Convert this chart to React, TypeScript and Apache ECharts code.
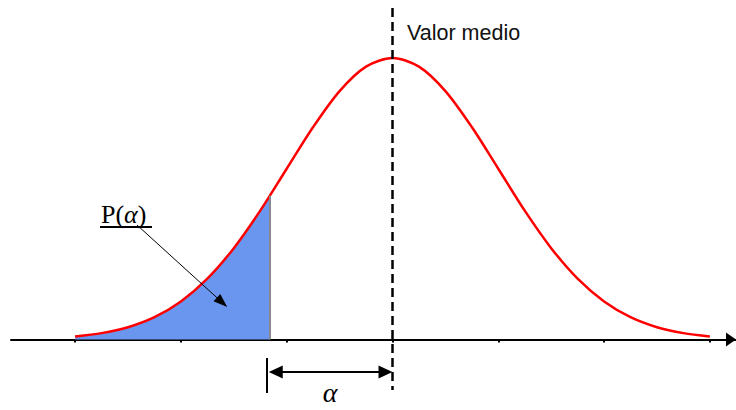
import React, { useEffect, useRef } from "react";
import * as echarts from "echarts";

// Standardised abscissa (in σ units) and the curve's height
const Z_VALUES = [-3, -2.75, -2.5, -2.25, -2, -1.75, -1.5, -1.25, -1, -0.75, -0.5, -0.25, 0, 0.25, 0.5, 0.75, 1, 1.25, 1.5, 1.75, 2, 2.25, 2.5, 2.75, 3];
const DENSITY = [0.0044, 0.0091, 0.0175, 0.0317, 0.054, 0.0863, 0.1295, 0.1826, 0.242, 0.3011, 0.3521, 0.3867, 0.3989, 0.3867, 0.3521, 0.3011, 0.242, 0.1826, 0.1295, 0.0863, 0.054, 0.0317, 0.0175, 0.0091, 0.0044];

// Shaded tail P(α): up to the cut point
const SHADE_Z = [-3, -2.75, -2.5, -2.25, -2, -1.75, -1.5, -1.25, -1.16];
const SHADE_DENSITY = [0.0044, 0.0091, 0.0175, 0.0317, 0.054, 0.0863, 0.1295, 0.1826, 0.2036];

const CUT_POINT = -1.16; // α start
const MEAN = 0;
const TICKS = [-3, -2, -1, 0, 1, 2, 3];

// Annotation anchors (data space)
const X_MIN = -3.606;
const X_MAX = 3.247;
const Y_MIN = -0.0786;
const Y_MAX = 0.4698;
const DIM_Y = -0.046; // α dimension arrow height
const DIM_TICK = [-0.0262, -0.0758];
const DASH_BOTTOM = -0.0715;
const POINTER_FROM = [-2.415, 0.1623];
const POINTER_TO = [-1.611, 0.0527];

export default function App() {
  const ref = useRef<HTMLDivElement>(null);

  useEffect(() => {
    if (!ref.current) return;
    const chart = echarts.init(ref.current, undefined, { renderer: "svg" });
    const pxPerX = 725 / (X_MAX - X_MIN);
    const arrowShift = 7 / pxPerX;

    const curve = Z_VALUES.map((z, i) => [z, DENSITY[i]]);
    const shade = SHADE_Z.map((z, i) => [z, SHADE_DENSITY[i]]);

    chart.setOption({
      animation: false,
      backgroundColor: "#ffffff",
      grid: { left: 11, right: 0, top: 8, bottom: 15 },
      xAxis: {
        type: "value",
        min: X_MIN,
        max: X_MAX,
        splitLine: { show: false },
        axisLabel: { show: false },
        axisLine: {
          onZero: true,
          lineStyle: { color: "#000", width: 2 },
          symbol: ["none", "none"],
        },
        axisTick: {
          show: true,
          customValues: TICKS,
          length: 3,
          lineStyle: { color: "#000", width: 2 },
        },
      },
      yAxis: { type: "value", min: Y_MIN, max: Y_MAX, show: false },
      series: [
        {
          type: "line",
          data: shade,
          smooth: 0.3,
          symbol: "none",
          silent: true,
          lineStyle: { width: 0, opacity: 0 },
          areaStyle: { color: "#6b96f0", opacity: 1 },
          z: 1,
          markLine: {
            silent: true,
            symbol: ["none", "none"],
            label: { show: false },
            lineStyle: { color: "#8a8a8a", width: 2, type: "solid" },
            data: [[{ coord: [CUT_POINT, 0] }, { coord: [CUT_POINT, SHADE_DENSITY[SHADE_DENSITY.length - 1]] }]],
          },
        },
        {
          type: "line",
          data: curve,
          smooth: 0.3,
          symbol: "none",
          silent: true,
          lineStyle: { color: "#ff0000", width: 2.5 },
          z: 3,
          markLine: {
            silent: true,
            symbol: ["none", "none"],
            label: { show: false },
            animation: false,
            data: [
              [
                { coord: [MEAN, Y_MAX], lineStyle: { color: "#000", width: 2.5, type: [9, 5] } },
                { coord: [MEAN, DASH_BOTTOM] },
              ],
              [
                { coord: [CUT_POINT - 3 / pxPerX, DIM_TICK[0]], lineStyle: { color: "#000", width: 2, type: "solid" } },
                { coord: [CUT_POINT - 3 / pxPerX, DIM_TICK[1]] },
              ],
              [
                {
                  coord: [CUT_POINT + arrowShift - 1 / pxPerX, DIM_Y],
                  symbol: "triangle",
                  symbolSize: [13, 14],
                  lineStyle: { color: "#000", width: 2, type: "solid" },
                },
                { coord: [MEAN - arrowShift, DIM_Y], symbol: "triangle", symbolSize: [13, 14] },
              ],
              [
                {
                  coord: POINTER_FROM,
                  symbol: "none",
                  lineStyle: { color: "#000", width: 1, type: "solid" },
                },
                { coord: POINTER_TO, symbol: "triangle", symbolSize: [10, 14] },
              ],
              [
                {
                  coord: [X_MAX - 25 / pxPerX, 0],
                  symbol: "none",
                  lineStyle: { color: "#000", width: 2, type: "solid" },
                },
                { coord: [X_MAX - 5 / pxPerX, 0], symbol: "triangle", symbolSize: [14, 10] },
              ],
            ],
            itemStyle: { color: "#000" },
          },
        },
      ],
      graphic: [
        {
          type: "text",
          left: 407,
          top: 22,
          style: {
            text: "Valor medio",
            fill: "#111",
            font: "21.5px 'Liberation Sans', Arial, sans-serif",
          },
        },
        {
          type: "text",
          x: 101,
          y: 214,
          style: {
            text: "{a|P(}{b|α}{a|)}",
            verticalAlign: "middle",
            rich: {
              a: { fontFamily: "'Liberation Serif', 'Times New Roman', serif", fontSize: 26, fill: "#000" },
              b: { fontFamily: "'Liberation Serif', 'Times New Roman', serif", fontSize: 26, fontStyle: "italic", fill: "#000" },
            },
          },
        },
        {
          type: "line",
          shape: { x1: 100, y1: 227, x2: 152, y2: 227 },
          style: { stroke: "#000", lineWidth: 2 },
        },
        {
          type: "text",
          x: 330,
          y: 392,
          style: {
            text: "α",
            align: "center",
            verticalAlign: "middle",
            fill: "#000",
            font: "italic 28px 'Liberation Serif', 'Times New Roman', serif",
          },
        },
      ],
    });
    return () => chart.dispose();
  }, []);

  return (
    <div
      ref={ref}
      style={{ position: "fixed", left: 0, top: 0, width: 736, height: 410, background: "#fff" }}
    />
  );
}
